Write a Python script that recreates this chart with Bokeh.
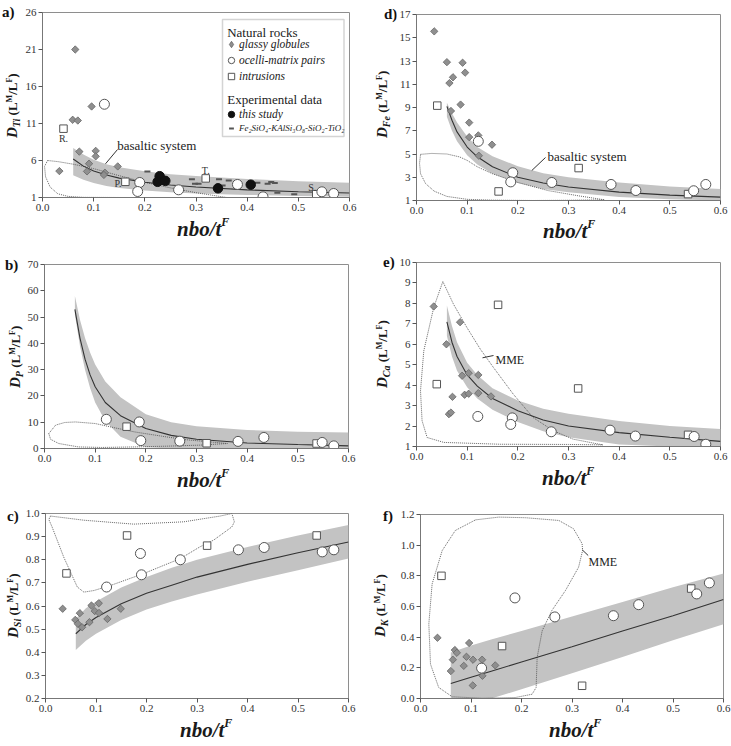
import numpy as np
from bokeh.plotting import figure
from bokeh.layouts import column, row
from bokeh.models import (Range1d, FixedTicker, NumeralTickFormatter, Label, Div,
                          Legend, LegendItem, BoxAnnotation, Arrow)
from bokeh.embed import file_html
from bokeh.resources import INLINE

SERIF = "Liberation Serif"
FONT_CSS = "'Liberation Serif', 'Times New Roman', serif"

# ---------------- data ----------------
x_ticks = [0.0, 0.1, 0.2, 0.3, 0.4, 0.5, 0.6]

# a) Ti partitioning
ti_glassy_x = [0.033, 0.064, 0.059, 0.069, 0.096, 0.072, 0.104, 0.104, 0.091, 0.087, 0.122, 0.120, 0.147]
ti_glassy_y = [4.57, 21.0, 11.5, 11.4, 13.3, 7.2, 7.3, 6.56, 5.57, 4.53, 4.35, 4.05, 5.2]
ti_ocelli_x = [0.121, 0.190, 0.186, 0.266, 0.381, 0.431, 0.546, 0.569]
ti_ocelli_y = [13.6, 3.03, 1.81, 2.04, 2.76, 1.09, 1.77, 1.54]
ti_intr_x = [0.041, 0.162, 0.319, 0.535]
ti_intr_y = [10.3, 3.12, 3.58, 1.45]
intr_names = ["R.", "P.", "T.", "S."]
ti_this_x = [0.229, 0.225, 0.240, 0.343, 0.407]
ti_this_y = [3.88, 3.12, 3.25, 2.24, 2.73]
ti_exp_x = [0.205, 0.292, 0.298, 0.305, 0.345, 0.352, 0.364, 0.420, 0.440, 0.447, 0.454, 0.459, 0.492]
ti_exp_y = [4.5, 3.47, 2.87, 2.87, 3.47, 2.62, 3.3, 3.0, 2.87, 3.1, 2.97, 1.65, 1.43]
ti_band_x = [0.06, 0.08, 0.1, 0.125, 0.15, 0.2, 0.25, 0.3, 0.4, 0.5, 0.6]
ti_fit = [6.2, 5.24, 4.59, 4.03, 3.62, 3.06, 2.68, 2.41, 2.03, 1.78, 1.6]
ti_hi = [7.7, 6.8, 6.1, 5.5, 5.1, 4.55, 4.15, 3.9, 3.5, 3.2, 3.0]
ti_lo = [4.0, 3.4, 2.95, 2.55, 2.3, 1.95, 1.7, 1.55, 1.35, 1.2, 1.1]
ti_mme_x = [0.010, 0.030, 0.060, 0.100, 0.150, 0.200, 0.250, 0.300, 0.360, 0.250, 0.150,
            0.080, 0.050, 0.030, 0.015, 0.006, 0.004, 0.010]
ti_mme_y = [6.0, 5.85, 5.5, 4.9, 3.95, 3.05, 2.3, 1.65, 1.0, 1.0, 1.0,
            1.02, 1.15, 1.5, 2.4, 3.8, 5.2, 6.0]

# d) Fe partitioning
fe_glassy_x = [0.035, 0.060, 0.065, 0.072, 0.068, 0.087, 0.091, 0.096, 0.104, 0.104, 0.122, 0.123, 0.149]
fe_glassy_y = [15.55, 12.9, 11.1, 11.6, 8.7, 9.25, 12.85, 12.0, 7.7, 6.45, 6.6, 4.85, 5.8]
fe_ocelli_x = [0.122, 0.190, 0.186, 0.267, 0.384, 0.433, 0.547, 0.571]
fe_ocelli_y = [6.09, 3.39, 2.6, 2.55, 2.38, 1.86, 1.84, 2.38]
fe_intr_x = [0.041, 0.162, 0.320, 0.536]
fe_intr_y = [9.16, 1.78, 3.79, 1.55]
fe_band_x = [0.06, 0.07, 0.08, 0.1, 0.12, 0.15, 0.2, 0.25, 0.3, 0.4, 0.5, 0.6]
fe_fit = [9.1, 7.9, 6.9, 5.6, 4.76, 3.9, 3.0, 2.5, 2.16, 1.72, 1.46, 1.29]
fe_hi = [9.4, 8.5, 7.7, 6.5, 5.6, 4.8, 3.95, 3.35, 3.0, 2.55, 2.2, 2.0]
fe_lo = [8.2, 7.0, 6.1, 4.9, 4.1, 3.3, 2.5, 2.0, 1.7, 1.3, 1.1, 1.0]
fe_mme_x = [0.008, 0.030, 0.060, 0.085, 0.100, 0.120, 0.150, 0.200, 0.260, 0.320, 0.371,
            0.300, 0.230, 0.150, 0.100, 0.060, 0.035, 0.018, 0.008, 0.006, 0.008]
fe_mme_y = [4.97, 5.05, 5.0, 4.75, 4.45, 3.9, 3.3, 2.55, 1.85, 1.4, 1.06,
            1.02, 1.0, 1.03, 1.1, 1.35, 1.8, 2.45, 3.3, 4.2, 4.97]

# b) P partitioning
p_ocelli_x = [0.122, 0.187, 0.190, 0.267, 0.382, 0.433, 0.548, 0.571]
p_ocelli_y = [11.1, 10.1, 3.0, 2.8, 2.7, 4.2, 2.3, 1.0]
p_intr_x = [0.162, 0.320, 0.537]
p_intr_y = [8.3, 2.0, 1.9]
p_band_x = [0.06, 0.07, 0.08, 0.09, 0.1, 0.12, 0.15, 0.2, 0.25, 0.3, 0.4, 0.5, 0.6]
p_fit = [52.9, 42.0, 34.0, 28.0, 23.5, 17.5, 12.5, 7.6, 5.0, 3.5, 2.1, 1.5, 1.0]
p_hi = [58.0, 49.0, 42.0, 36.5, 32.0, 25.5, 19.5, 13.0, 10.0, 8.5, 7.0, 6.4, 6.1]
p_lo = [51.0, 39.0, 30.0, 23.0, 17.5, 10.5, 4.5, 0.5, 0.0, 0.0, 0.0, 0.0, 0.0]
p_mme_x = [0.0085, 0.022, 0.040, 0.061, 0.100, 0.139, 0.178, 0.231, 0.276, 0.361,
           0.309, 0.244, 0.178, 0.113, 0.067, 0.028, 0.012, 0.0085]
p_mme_y = [5.7, 8.9, 9.9, 10.1, 9.5, 7.85, 6.3, 4.7, 3.4, 1.9,
           1.3, 0.9, 0.6, 0.4, 0.6, 1.9, 3.5, 5.7]

# e) Ca partitioning
ca_glassy_x = [0.034, 0.086, 0.059, 0.090, 0.103, 0.122, 0.071, 0.095, 0.103, 0.122, 0.147, 0.064, 0.068]
ca_glassy_y = [7.85, 7.08, 6.0, 4.46, 4.59, 4.5, 3.43, 3.53, 3.58, 3.61, 3.45, 2.58, 2.66]
ca_ocelli_x = [0.121, 0.189, 0.186, 0.266, 0.382, 0.432, 0.548, 0.571]
ca_ocelli_y = [2.47, 2.40, 2.08, 1.72, 1.80, 1.51, 1.49, 1.11]
ca_intr_x = [0.040, 0.161, 0.319, 0.536]
ca_intr_y = [4.05, 7.93, 3.84, 1.57]
ca_band_x = [0.06, 0.07, 0.08, 0.1, 0.12, 0.15, 0.2, 0.25, 0.3, 0.4, 0.5, 0.6]
ca_fit = [7.1, 6.1, 5.4, 4.5, 3.95, 3.35, 2.75, 2.3, 2.0, 1.68, 1.45, 1.25]
ca_hi = [7.9, 6.9, 6.1, 5.1, 4.5, 3.85, 3.25, 2.85, 2.6, 2.25, 2.0, 1.85]
ca_lo = [6.4, 5.4, 4.7, 3.9, 3.35, 2.8, 2.2, 1.75, 1.45, 1.1, 1.0, 1.0]
ca_mme_x = [0.052, 0.073, 0.0995, 0.126, 0.152, 0.191, 0.230, 0.270, 0.309, 0.361, 0.368,
            0.300, 0.165, 0.054, 0.021, 0.011, 0.0079, 0.0144, 0.034, 0.052]
ca_mme_y = [9.07, 7.96, 6.82, 5.76, 4.86, 3.56, 2.42, 1.77, 1.36, 1.11, 1.08,
            1.1, 1.11, 1.2, 1.44, 2.26, 3.72, 5.68, 7.8, 9.07]

# c) Si partitioning
si_glassy_x = [0.034, 0.059, 0.068, 0.064, 0.0725, 0.087, 0.091, 0.0976, 0.1055, 0.106, 0.1226, 0.149]
si_glassy_y = [0.588, 0.540, 0.569, 0.523, 0.508, 0.530, 0.602, 0.578, 0.612, 0.570, 0.544, 0.588]
si_ocelli_x = [0.121, 0.188, 0.190, 0.267, 0.382, 0.433, 0.548, 0.571]
si_ocelli_y = [0.682, 0.827, 0.735, 0.80, 0.843, 0.853, 0.834, 0.843]
si_intr_x = [0.0415, 0.1615, 0.320, 0.537]
si_intr_y = [0.741, 0.905, 0.861, 0.905]
si_band_x = [0.06, 0.08, 0.1, 0.15, 0.2, 0.25, 0.3, 0.4, 0.5, 0.6]
si_fit = [0.48, 0.52, 0.55, 0.61, 0.655, 0.69, 0.725, 0.78, 0.83, 0.877]
si_hi = [0.545, 0.59, 0.62, 0.68, 0.725, 0.765, 0.80, 0.855, 0.905, 0.95]
si_lo = [0.41, 0.45, 0.48, 0.54, 0.585, 0.62, 0.65, 0.705, 0.755, 0.805]
si_mme_x = [0.0099, 0.0758, 0.1747, 0.2736, 0.346, 0.369, 0.374, 0.369, 0.333, 0.306, 0.267,
            0.194, 0.129, 0.096, 0.076, 0.063, 0.036, 0.013, 0.0066, 0.0099]
si_mme_y = [0.989, 0.971, 0.954, 0.964, 0.989, 1.0, 0.964, 0.942, 0.885, 0.856, 0.805,
            0.74, 0.689, 0.667, 0.66, 0.682, 0.812, 0.942, 0.974, 0.989]

# f) K partitioning
k_glassy_x = [0.0336, 0.060, 0.064, 0.068, 0.072, 0.0857, 0.091, 0.0963, 0.104, 0.122, 0.1226, 0.1035, 0.148]
k_glassy_y = [0.396, 0.179, 0.253, 0.316, 0.298, 0.213, 0.272, 0.362, 0.253, 0.253, 0.148, 0.085, 0.216]
k_ocelli_x = [0.121, 0.187, 0.266, 0.382, 0.432, 0.547, 0.572]
k_ocelli_y = [0.198, 0.656, 0.532, 0.54, 0.612, 0.682, 0.754]
k_intr_x = [0.0415, 0.1615, 0.320, 0.536]
k_intr_y = [0.80, 0.342, 0.083, 0.717]
k_band_x = [0.06, 0.1, 0.14, 0.2, 0.3, 0.4, 0.5, 0.6]
k_fit = [0.098, 0.138, 0.178, 0.238, 0.338, 0.44, 0.54, 0.645]
k_hi = [0.30, 0.345, 0.385, 0.44, 0.535, 0.63, 0.725, 0.815]
k_lo = [0.0, 0.0, 0.0, 0.06, 0.165, 0.27, 0.38, 0.485]
k_mme_x = [0.109, 0.155, 0.208, 0.274, 0.303, 0.320, 0.321, 0.313, 0.287, 0.260, 0.241, 0.231,
           0.229, 0.221, 0.188, 0.122, 0.063, 0.036, 0.0198, 0.0165, 0.023, 0.043, 0.069, 0.109]
k_mme_y = [1.165, 1.183, 1.179, 1.161, 1.107, 1.01, 0.965, 0.856, 0.704, 0.573, 0.442, 0.268,
           0.072, 0.028, 0.0065, 0.002, 0.011, 0.072, 0.224, 0.486, 0.747, 0.965, 1.096, 1.165]

# ---------------- styles ----------------
GLASSY = dict(marker="square", angle=np.pi / 4, size=5.2, fill_color="#8f8f8f",
              line_color="#666666", line_width=0.8)
OCELLI = dict(marker="circle", size=10, fill_color="white", line_color="#555555", line_width=1)
INTR = dict(marker="square", size=7.5, fill_color="white", line_color="#555555", line_width=1)
THIS = dict(marker="circle", size=9.5, fill_color="#111111", line_color="#111111")
EXPD = dict(marker="dash", size=6, line_color="#555555", line_width=2)
BAND_COLOR = "#c3c3c3"


# ---------------- axis titles and panel tags (HTML beside each plot) ----------------
def side_html(width, height, tag, tag_x, tag_base, sub, title_base_x, title_start_y):
    tag_span = (f'<span style="position:absolute;left:{tag_x}px;top:{tag_base - 12.6:.1f}px;'
                f'font-family:{FONT_CSS};font-weight:bold;font-size:15px;line-height:1;'
                f'color:#111;white-space:nowrap">{tag}</span>')
    sup = 'font-size:8px;vertical-align:5.5px'
    title_span = (f'<span style="position:absolute;left:{title_base_x - 12.6:.1f}px;'
                  f'top:{title_start_y:.1f}px;transform-origin:0 0;transform:rotate(-90deg);'
                  f'white-space:nowrap;font-family:{FONT_CSS};font-size:15px;line-height:1;'
                  f'font-weight:bold;color:#1a1a1a">'
                  f'<i>D</i><i style="font-size:10px;vertical-align:-3px">{sub}</i>'
                  f'<span style="font-size:13px">&nbsp;(L</span><span style="{sup}">M</span>'
                  f'<span style="font-size:13px">/L</span><span style="{sup}">F</span>'
                  f'<span style="font-size:13px">)</span></span>')
    html = (f'<div style="position:relative;width:{width}px;height:{height}px;margin:0;padding:0">'
            f'{tag_span}{title_span}</div>')
    return Div(text=html, width=width, height=height, margin=0,
               styles={"overflow": "visible"})


def bottom_html(width, height, start_x, base_y):
    html = (f'<div style="position:relative;width:{width}px;height:{height}px;margin:0;padding:0">'
            f'<span style="position:absolute;left:{start_x}px;top:{base_y - 20:.1f}px;'
            f'white-space:nowrap;font-family:{FONT_CSS};font-size:21px;line-height:1;'
            f'font-style:italic;font-weight:bold;color:#1a1a1a">nbo/t'
            f'<span style="font-size:12px;vertical-align:10px">F</span></span></div>')
    return Div(text=html, width=width, height=height, margin=0,
               styles={"overflow": "visible"})


def make_panel(fig_w, fig_h, borders, yrange, yticks, yfmt):
    left, right, top, bottom = borders
    p = figure(width=fig_w, height=fig_h, x_range=Range1d(0, 0.6),
               y_range=Range1d(*yrange), output_backend="svg", toolbar_location=None,
               tools="", title=None, min_border_left=left, min_border_right=right,
               min_border_top=top, min_border_bottom=bottom)
    p.xgrid.visible = False
    p.ygrid.visible = False
    p.outline_line_color = "#8e8e8e"
    p.background_fill_color = "white"
    p.border_fill_color = "white"
    for ax in (p.xaxis[0], p.yaxis[0]):
        ax.axis_line_color = "#777777"
        ax.major_tick_line_color = "#555555"
        ax.major_tick_out = 4
        ax.major_tick_in = 0
        ax.minor_tick_line_color = None
        ax.major_label_text_font = SERIF
        ax.major_label_text_font_size = "11px"
        ax.major_label_text_color = "#333333"
        ax.major_label_standoff = 2
    p.xaxis[0].ticker = FixedTicker(ticks=x_ticks)
    p.xaxis[0].formatter = NumeralTickFormatter(format="0.0")
    p.yaxis[0].ticker = FixedTicker(ticks=yticks)
    p.yaxis[0].formatter = NumeralTickFormatter(format=yfmt)
    return p


def draw_field(p, bx, lo, hi, fit, mx, my):
    p.varea(x=bx, y1=lo, y2=hi, fill_color=BAND_COLOR)
    p.line(mx, my, line_color="#555555", line_width=0.9, line_dash="1 1")
    p.line(bx, fit, line_color="#333333", line_width=1.1)


def note(p, txt, sx, sy, lead, size="13px"):
    p.add_layout(Label(x=sx, y=sy, x_units="screen", y_units="screen", text=txt,
                       text_font=SERIF, text_font_size=size, text_color="#222222",
                       text_baseline="alphabetic"))
    (x0, y0), (x1, y1) = lead
    p.add_layout(Arrow(end=None, x_start=x0, y_start=y0, x_end=x1, y_end=y1,
                       start_units="screen", end_units="screen",
                       line_color="#333333", line_width=1))


def assemble(fig, width, height, side_w, side_args, bottom_args):
    fig_w = width - side_w
    side = side_html(side_w, height, *side_args)
    bottom = bottom_html(fig_w, height - fig.height, *bottom_args)
    return row(side, column(fig, bottom, spacing=0), spacing=0)


# ---------------- a) D_Ti ----------------
pa = make_panel(344, 217, (21, 16, 12, 20), (1, 26), [1, 6, 11, 16, 21, 26], "0")
draw_field(pa, ti_band_x, ti_lo, ti_hi, ti_fit, ti_mme_x, ti_mme_y)
r_exp = pa.scatter(ti_exp_x, ti_exp_y, **EXPD)
pa.scatter(ti_glassy_x, ti_glassy_y, **GLASSY)
r_intr = pa.scatter(ti_intr_x, ti_intr_y, **INTR)
r_oc = pa.scatter(ti_ocelli_x, ti_ocelli_y, **OCELLI)
r_this = pa.scatter(ti_this_x, ti_this_y, **THIS)
# hidden diamond renderer that only supplies the key swatch
r_gl_key = pa.scatter(ti_glassy_x, ti_glassy_y, marker="diamond", fill_color="#8f8f8f",
                      line_color="#666666", line_width=0.8, visible=False)

# sample tags next to the intrusion squares: (x offset, y offset, align)
tag_pos = [(0, -10, "center"), (-4, -2, "right"), (0, 8, "center"), (-4, 7, "center")]
for nm, xv, yv, (dx, dy, al) in zip(intr_names, ti_intr_x, ti_intr_y, tag_pos):
    pa.add_layout(Label(x=xv, y=yv, x_offset=dx, y_offset=dy, text=nm, text_font=SERIF,
                        text_font_size="10px", text_color="#333333", text_align=al,
                        text_baseline="middle"))

note(pa, "basaltic system", 74.7, 52.5, ((63, 33.7), (75, 48)))

# key box
pa.add_layout(BoxAnnotation(left=180, right=301.5, bottom=61, top=178,
                            left_units="screen", right_units="screen",
                            bottom_units="screen", top_units="screen",
                            fill_alpha=0, line_color="#707070", line_width=1.5))
for txt, sy in (("Natural rocks", 165.5), ("Experimental data", 98.5)):
    pa.add_layout(Label(x=184.7, y=sy, x_units="screen", y_units="screen", text=txt,
                        text_font=SERIF, text_font_size="13px", text_color="#1a1a1a",
                        text_baseline="alphabetic"))


def key(items, loc, glyph_h, font_size):
    lg = Legend(items=items, location=loc, glyph_width=16, glyph_height=glyph_h,
                label_height=glyph_h, label_standoff=0, spacing=0, padding=0, margin=0,
                border_line_color=None, background_fill_alpha=0, inactive_fill_alpha=0,
                label_text_font=SERIF, label_text_font_style="italic",
                label_text_font_size=font_size, label_text_color="#1a1a1a")
    pa.add_layout(lg)


key([LegendItem(label="glassy globules", renderers=[r_gl_key]),
     LegendItem(label="ocelli-matrix pairs", renderers=[r_oc]),
     LegendItem(label="intrusions", renderers=[r_intr])], (181, 113), 16, "11.5px")
key([LegendItem(label="this study", renderers=[r_this])], (181, 75), 16, "11.5px")
key([LegendItem(label="Fe\u2082SiO\u2084-KAlSi\u2083O\u2088-SiO\u2082-TiO\u2082",
                renderers=[r_exp])], (181, 63), 12, "9px")

panel_a = assemble(pa, 365, 245, 21, ("a)", 2, 17.5, "Ti", 17.5, 138.3), (156, 18.5))

# ---------------- d) D_Fe ----------------
pd_ = make_panel(335, 220, (18, 11, 14, 20), (1, 17), list(range(1, 18, 2)), "0")
draw_field(pd_, fe_band_x, fe_lo, fe_hi, fe_fit, fe_mme_x, fe_mme_y)
pd_.scatter(fe_glassy_x, fe_glassy_y, **GLASSY)
pd_.scatter(fe_intr_x, fe_intr_y, **INTR)
pd_.scatter(fe_ocelli_x, fe_ocelli_y, **OCELLI)
note(pd_, "basaltic system", 131, 44.5, ((115.3, 30), (129, 43)))
panel_d = assemble(pd_, 366, 245, 31, ("d)", 19, 19.5, "Fe", 22.5, 138.3), (147, 18))

# ---------------- b) D_P ----------------
pb = make_panel(341, 223, (18, 17, 19, 20), (0, 70), list(range(0, 71, 10)), "0")
draw_field(pb, p_band_x, p_lo, p_hi, p_fit, p_mme_x, p_mme_y)
pb.scatter(p_intr_x, p_intr_y, **INTR)
pb.scatter(p_ocelli_x, p_ocelli_y, **OCELLI)
panel_b = assemble(pb, 365, 250, 24, ("b)", 5, 25.5, "P", 21, 143.3), (153, 19))

# ---------------- e) D_Ca ----------------
pe = make_panel(335, 221, (18, 11, 17, 20), (1, 10), list(range(1, 11)), "0")
draw_field(pe, ca_band_x, ca_lo, ca_hi, ca_fit, ca_mme_x, ca_mme_y)
pe.scatter(ca_glassy_x, ca_glassy_y, **GLASSY)
pe.scatter(ca_intr_x, ca_intr_y, **INTR)
pe.scatter(ca_ocelli_x, ca_ocelli_y, **OCELLI)
note(pe, "MME", 79, 87, ((66, 88.7), (77, 91)), size="12px")
panel_e = assemble(pe, 366, 250, 31, ("e)", 18, 22.5, "Ca", 22.5, 143.3), (146, 19))

# ---------------- c) D_Si ----------------
pc = make_panel(343, 223, (23, 17, 18, 20), (0.2, 1.0),
                [0.2, 0.3, 0.4, 0.5, 0.6, 0.7, 0.8, 0.9, 1.0], "0.0")
draw_field(pc, si_band_x, si_lo, si_hi, si_fit, si_mme_x, si_mme_y)
pc.scatter(si_glassy_x, si_glassy_y, **GLASSY)
pc.scatter(si_intr_x, si_intr_y, **INTR)
pc.scatter(si_ocelli_x, si_ocelli_y, **OCELLI)
panel_c = assemble(pc, 365, 251, 22, ("c)", 7, 26.5, "Si", 19, 143.3), (158, 19))

# ---------------- f) D_K ----------------
pf = make_panel(335, 223, (24, 8, 19, 20), (0.0, 1.2),
                [0.0, 0.2, 0.4, 0.6, 0.8, 1.0, 1.2], "0.0")
draw_field(pf, k_band_x, k_lo, k_hi, k_fit, k_mme_x, k_mme_y)
pf.scatter(k_glassy_x, k_glassy_y, **GLASSY)
pf.scatter(k_intr_x, k_intr_y, **INTR)
pf.scatter(k_ocelli_x, k_ocelli_y, **OCELLI)
note(pf, "MME", 168, 137, ((161.7, 148.7), (167.7, 143)), size="12px")
panel_f = assemble(pf, 366, 251, 31, ("f)", 18, 26.5, "K", 20.5, 141.7), (153, 19))

layout = column(row(panel_a, panel_d, spacing=0),
                row(panel_b, panel_e, spacing=0),
                row(panel_c, panel_f, spacing=0), spacing=0)
open("out.html", "w").write(file_html(layout, INLINE))
